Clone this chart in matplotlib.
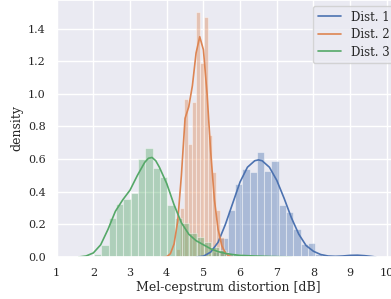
import matplotlib
matplotlib.use("Agg")
import matplotlib.pyplot as plt
import seaborn as sns
import numpy as np

# histogram bins and kde curves

# Dist. 1 (blue)
d1_edges = [5.07, 5.27, 5.46, 5.66, 5.86, 6.06, 6.26, 6.45, 6.65, 6.85, 7.05, 7.25, 7.45, 7.65, 7.84, 8.04, 8.24]
d1_heights = [0.01, 0.03, 0.115, 0.29, 0.45, 0.54, 0.52, 0.646, 0.53, 0.59, 0.32, 0.278, 0.17, 0.08, 0.084, 0.02]
d1_kde_x = [4.8, 5.0, 5.2, 5.4, 5.6, 5.8, 6.0, 6.2, 6.4, 6.5, 6.6, 6.8, 7.0, 7.2, 7.4, 7.6, 7.8, 8.0, 8.2, 8.4, 8.6, 8.8, 9.0, 9.2, 9.4, 9.6, 9.7]
d1_kde_y = [0.0, 0.005, 0.03, 0.09, 0.2, 0.33, 0.46, 0.55, 0.59, 0.595, 0.59, 0.55, 0.47, 0.36, 0.24, 0.14, 0.07, 0.035, 0.015, 0.006, 0.004, 0.006, 0.01, 0.011, 0.008, 0.003, 0.0]

# Dist. 2 (orange)
d2_edges = [4.26, 4.37, 4.48, 4.58, 4.69, 4.80, 4.91, 5.02, 5.12, 5.23, 5.34, 5.45, 5.56, 5.66]
d2_heights = [0.05, 0.3, 0.97, 0.69, 0.95, 1.5, 1.19, 1.47, 0.75, 0.52, 0.29, 0.125, 0.03]
d2_kde_x = [3.9, 4.0, 4.1, 4.2, 4.3, 4.4, 4.5, 4.6, 4.7, 4.8, 4.9, 5.0, 5.1, 5.2, 5.3, 5.4, 5.5, 5.6, 5.7, 5.8]
d2_kde_y = [0.0, 0.002, 0.02, 0.08, 0.22, 0.5, 0.85, 0.92, 1.05, 1.25, 1.35, 1.27, 1.0, 0.64, 0.35, 0.17, 0.07, 0.025, 0.006, 0.0]

# Dist. 3 (green)
d3_edges = [2.02, 2.22, 2.42, 2.62, 2.82, 3.02, 3.22, 3.42, 3.62, 3.82, 4.02, 4.22, 4.42, 4.62, 4.82, 5.02, 5.22, 5.42, 5.62, 5.82, 6.02, 6.22, 6.42, 6.62, 6.82, 7.02, 7.22]
d3_heights = [0.02, 0.075, 0.24, 0.325, 0.355, 0.39, 0.60, 0.665, 0.545, 0.49, 0.32, 0.24, 0.21, 0.15, 0.12, 0.09, 0.06, 0.04, 0.02, 0.02, 0.01, 0.01, 0.005, 0.005, 0.005, 0.005]
d3_kde_x = [1.6, 1.8, 2.0, 2.2, 2.4, 2.6, 2.8, 3.0, 3.2, 3.4, 3.5, 3.6, 3.7, 3.8, 4.0, 4.2, 4.4, 4.6, 4.8, 5.0, 5.2, 5.4, 5.6, 5.8, 6.0, 6.4, 6.8, 7.2, 7.4]
d3_kde_y = [0.0, 0.006, 0.025, 0.075, 0.17, 0.28, 0.35, 0.41, 0.5, 0.58, 0.605, 0.61, 0.59, 0.55, 0.45, 0.32, 0.21, 0.14, 0.1, 0.075, 0.05, 0.033, 0.022, 0.015, 0.01, 0.006, 0.003, 0.001, 0.0]

labels = ["Dist. 1", "Dist. 2", "Dist. 3"]

sns.set_theme(style="darkgrid", palette="deep")
plt.rcParams['font.family'] = ['DejaVu Serif']
colors = sns.color_palette("deep")

fig = plt.figure(figsize=(3.91, 2.99), dpi=100)
# the original image is cropped on the right, so the axes run past the edge
ax = fig.add_axes([0.145, 0.1405, 0.878, 0.8595])

dists = [(d1_edges, d1_heights, d1_kde_x, d1_kde_y),
         (d2_edges, d2_heights, d2_kde_x, d2_kde_y),
         (d3_edges, d3_heights, d3_kde_x, d3_kde_y)]

for i, (edges, heights, kx, ky) in enumerate(dists):
    edges = np.asarray(edges)
    ax.bar(edges[:-1], heights, width=np.diff(edges), align='edge',
           color=colors[i], alpha=0.4, edgecolor='white', linewidth=0.8)
    ax.plot(kx, ky, color=colors[i], linewidth=1.2, label=labels[i])

ax.set_xlim(1, 10.36)
ax.set_ylim(0, 1.575)
ax.set_xticks(range(1, 11))
ax.set_yticks([0.0, 0.2, 0.4, 0.6, 0.8, 1.0, 1.2, 1.4])
ax.tick_params(labelsize=8, pad=2)
ax.set_xlabel("Mel-cepstrum distortion [dB]", fontsize=9, labelpad=2)
ax.set_ylabel("density", fontsize=9, labelpad=3)
ax.legend(loc='upper right', fontsize=8.5, labelspacing=0.38)

plt.savefig('out.png', dpi=100)
